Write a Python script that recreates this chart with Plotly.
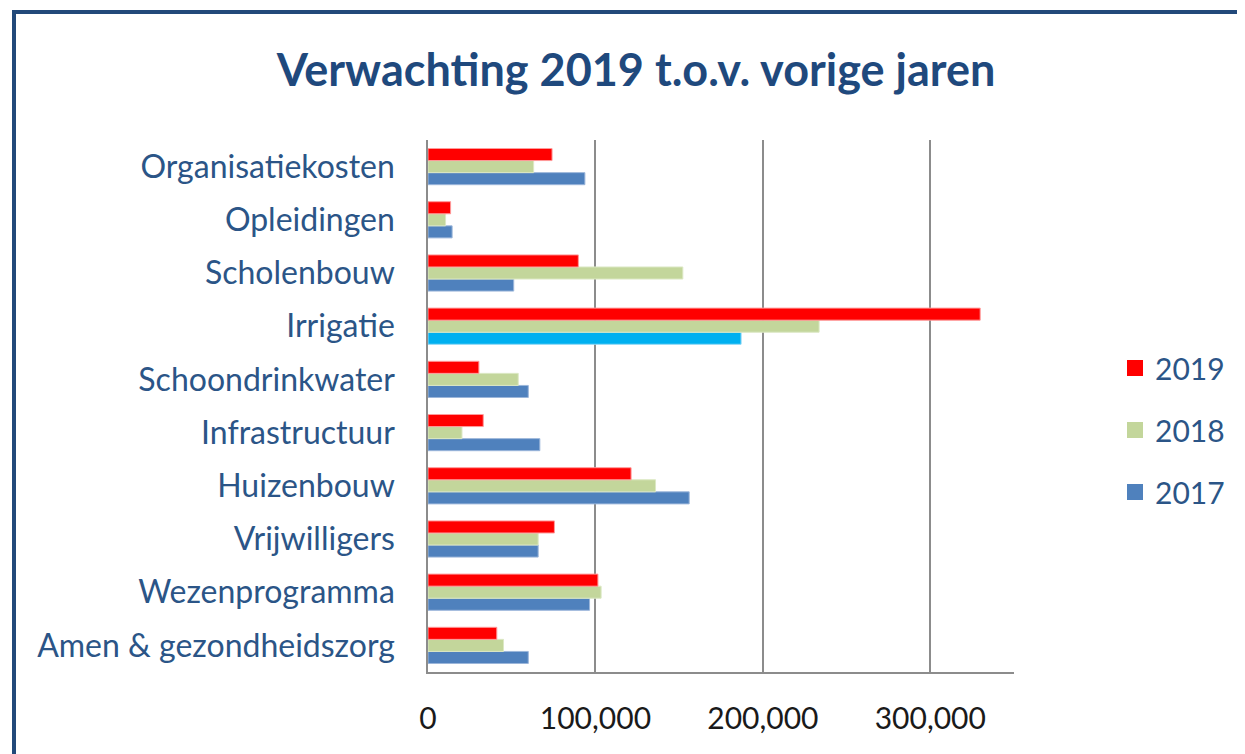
import plotly.graph_objects as go

categories = ["Amen & gezondheidszorg", "Wezenprogramma", "Vrijwilligers", "Huizenbouw",
              "Infrastructuur", "Schoondrinkwater", "Irrigatie", "Scholenbouw",
              "Opleidingen", "Organisatiekosten"]
v2017 = [59900, 96500, 65800, 156000, 66800, 59900, 187000, 51200, 14400, 93700]
v2018 = [45100, 103400, 65800, 135900, 20300, 53900, 233600, 152200, 10500, 63100]
v2019 = [41100, 101500, 75500, 121300, 33000, 30400, 329800, 89800, 13500, 74100]
series_names = ["2017", "2018", "2019"]
tick_vals = [0, 100000, 200000, 300000]
tick_text = ["0", "100,000", "200,000", "300,000"]

OFF = 8  # default page body margin
W, H = 1245 - OFF, 754 - OFF
ml, mt = 428 - OFF, 140 - OFF
plot_r, plot_b = 1014 - OFF, 672 - OFF
mr, mb = W - plot_r, H - plot_b
pw, ph = W - ml - mr, H - mt - mb

def px_x(p):
    return (p - OFF - ml) / pw

def px_y(p):
    return (H - mb - (p - OFF)) / ph

blue = "#4F81BD"
cyan = "#00B0F0"
green = "#C3D69B"
red = "#FF0000"
dark = "#1F497D"
label_col = "#2B5587"

c2017 = [cyan if c == "Irrigatie" else blue for c in categories]
l2017 = ["#8fd8f5" if c == "Irrigatie" else "#9bb6da" for c in categories]

fig = go.Figure()
fig.add_trace(go.Bar(y=categories, x=v2017, name=series_names[0], orientation="h",
                     marker=dict(color=c2017, line=dict(color=l2017, width=1)),
                     showlegend=False))
fig.add_trace(go.Bar(y=categories, x=v2018, name=series_names[1], orientation="h",
                     marker=dict(color=green, line=dict(color="#dce8c4", width=1)),
                     showlegend=False))
fig.add_trace(go.Bar(y=categories, x=v2019, name=series_names[2], orientation="h",
                     marker=dict(color=red, line=dict(color="#ff9a9a", width=1)),
                     showlegend=False))

# legend entries with larger square swatches
for nm, col, rank in [(series_names[2], red, 1), (series_names[1], green, 2), (series_names[0], blue, 3)]:
    fig.add_trace(go.Scatter(x=[None], y=[None], mode="markers", name=nm,
                             marker=dict(symbol="square", size=16, color=col),
                             legendgroup=nm, legendrank=rank, showlegend=True,
                             hoverinfo="skip"))

fig.update_layout(
    width=W, height=H,
    margin=dict(l=ml, r=mr, t=mt, b=mb, autoexpand=False),
    paper_bgcolor="white", plot_bgcolor="white",
    barmode="group", bargap=0.32, bargroupgap=0,
    font=dict(family="Lato, Carlito, sans-serif", color=dark),
    title=dict(text="<b>Verwachting 2019 t.o.v. vorige jaren</b>",
               x=(636 - OFF) / W, xanchor="center", xref="container",
               y=1 - (70 - OFF) / H, yanchor="middle", yref="container",
               font=dict(size=45, color=dark, family="Lato, sans-serif")),
    legend=dict(x=px_x(1115), y=px_y(342), xanchor="left", yanchor="top",
                traceorder="grouped", tracegroupgap=20,
                font=dict(size=30, color=label_col), bgcolor="rgba(0,0,0,0)"),
    showlegend=True,
)
fig.update_xaxes(range=[0, 350000], tickvals=tick_vals, ticktext=tick_text,
                 showgrid=True, gridcolor="#8c8c8c", gridwidth=1.5,
                 showline=True, linecolor="#8c8c8c", linewidth=1.5,
                 zeroline=False, ticks="", ticklabelstandoff=19,
                 tickfont=dict(size=30, color="#1a1a1a"))
fig.update_yaxes(showline=True, linecolor="#8c8c8c", linewidth=1.5,
                 showgrid=False, ticks="", ticklabelstandoff=25,
                 tickfont=dict(size=32, color=label_col))

fig.add_shape(type="rect", xref="paper", yref="paper",
              x0=px_x(14), x1=px_x(1300), y0=px_y(820), y1=px_y(12),
              line=dict(color="#22497a", width=4), fillcolor="rgba(0,0,0,0)",
              layer="above")

fig.write_html("out.html")
